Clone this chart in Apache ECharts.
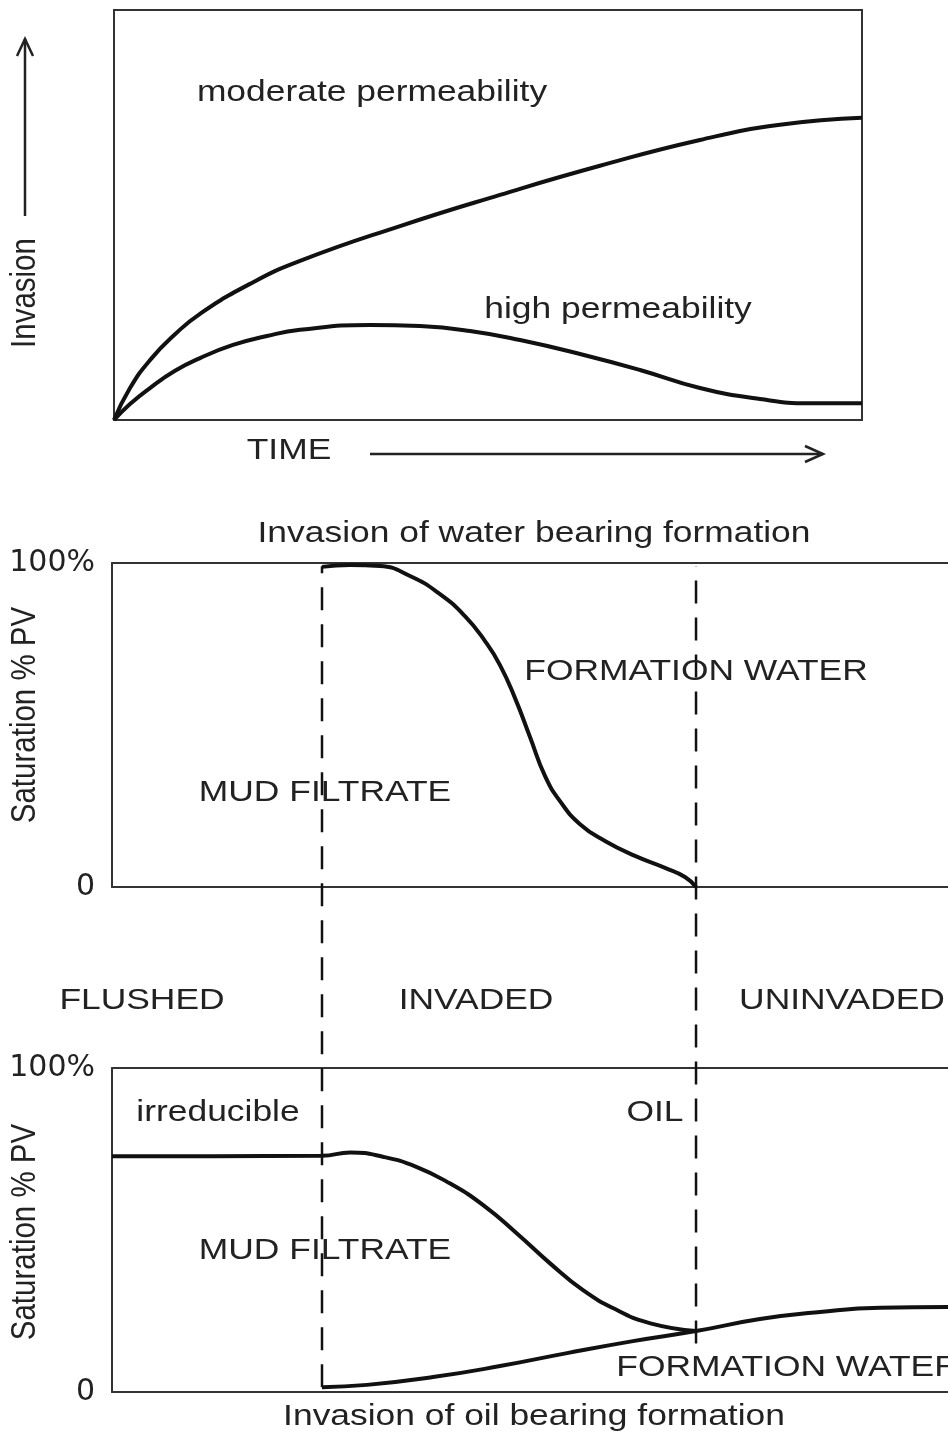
<!DOCTYPE html>
<html>
<head>
<meta charset="utf-8">
<script src="https://cdn.jsdelivr.net/npm/echarts@6/dist/echarts.min.js"></script>
<style>
html, body { margin: 0; padding: 0; background: #fff; }
#main { width: 948px; height: 1433px; }
</style>
</head>
<body>
<div id="main"></div>
<script>
// top panel - invasion vs time
var timeModerate = [0, 2.14, 4.81, 8.16, 11.5, 18.18, 24.87, 38.24, 51.6, 64.97, 78.34, 89.04, 100];
var invModerate  = [0, 7.8, 14.6, 20.9, 25.9, 33.2, 38.8, 47.3, 54.9, 62.0, 68.3, 72.0, 73.7];
var timeHigh = [0, 2.14, 4.81, 8.16, 11.5, 15.91, 20.45, 24.87, 34.22, 40.91, 47.59, 54.28, 62.3, 70.32, 78.34, 86.36, 93.05, 100];
var invHigh  = [0, 3.9, 7.8, 12.0, 15.1, 18.3, 20.5, 22.0, 23.2, 22.9, 21.7, 19.5, 16.1, 12.2, 7.8, 5.1, 4.1, 4.1];

// middle panel - water bearing formation (mud filtrate saturation)
var distWater = [25.12, 28.47, 32.06, 35.65, 39.23, 42.22, 44.62, 46.41, 48.21, 50.0, 51.79, 53.59, 55.98, 58.97, 62.56, 66.15, 68.54, 69.86];
var satWater  = [98.8, 99.4, 99.1, 96.0, 90.4, 83.6, 75.9, 68.5, 58.3, 46.3, 34.3, 26.5, 19.4, 14.2, 9.6, 5.9, 3.1, 0];

// bottom panel - oil bearing formation
var distOil = [0, 12, 25.12, 28.5, 32.4, 36.4, 40.4, 44.4, 48.4, 52.4, 56.3, 60.4, 64.4, 69.86];
var satOil  = [72.8, 72.8, 72.9, 73.9, 72.6, 69.5, 64.4, 57.7, 49.0, 39.7, 31.5, 25.3, 21.2, 18.8];
var distFw = [25.12, 30.5, 38.4, 46.41, 54.43, 62.32, 69.86, 77.51, 84.69, 91.87, 100];
var satFw  = [1.5, 2.2, 4.6, 8.0, 12.0, 15.7, 18.8, 22.5, 24.7, 26.0, 26.2];

// zone boundaries (dashed), in the stacked overlay scale
var zoneX    = [25.12, 69.86];
var zoneFrom = [1.5, 15];
var zoneTo   = [255, 255];

var satTicks = { 0: '0', 100: '100%' };

function pairs(xs, ys) {
    return xs.map(function (x, i) { return [x, ys[i]]; });
}

function curve(name, xi, yi, data) {
    return {
        name: name,
        type: 'line',
        xAxisIndex: xi,
        yAxisIndex: yi,
        data: data,
        smooth: 0.5,
        symbol: 'none',
        silent: true,
        lineStyle: { color: '#111', width: 4 }
    };
}

function txt(s, x, y, rot) {
    return {
        type: 'text',
        x: x, y: y,
        rotation: rot ? Math.PI / 2 : 0,
        scaleX: rot ? 1 : 1.2,
        scaleY: rot ? 1.2 : 1,
        z: 20,
        style: {
            text: s,
            fontSize: 29.5,
            fontFamily: 'Liberation Sans',
            fill: '#222',
            textAlign: 'center', textVerticalAlign: 'middle',
            align: 'center', verticalAlign: 'middle'
        }
    };
}

var axisLn = { show: true, onZero: false, lineStyle: { color: '#333', width: 2 } };

function valAxis(grid, pos, extra) {
    var a = {
        type: 'value', gridIndex: grid, position: pos, min: 0, max: 100,
        axisLine: axisLn, axisTick: { show: false }, axisLabel: { show: false },
        splitLine: { show: false }
    };
    for (var k in extra) a[k] = extra[k];
    return a;
}

var satLabel = {
    show: true, margin: 17, fontSize: 30, fontFamily: 'DejaVu Sans', color: '#222',
    formatter: function (v) { return satTicks[v] || ''; }
};

var myChart = echarts.init(document.getElementById('main'));
var option = {
    animation: false,
    backgroundColor: '#fff',
    grid: [
        { left: 114, top: 10, width: 748, height: 410, show: true, borderColor: '#333', borderWidth: 2 },
        { left: 112, top: 563, width: 836, height: 324 },
        { left: 112, top: 1068, width: 836, height: 324 },
        { left: 112, top: 563, width: 836, height: 829 }
    ],
    xAxis: [
        { type: 'value', gridIndex: 0, min: 0, max: 100, show: false },
        valAxis(1, 'bottom', {}),
        valAxis(1, 'top', {}),
        valAxis(2, 'bottom', {}),
        valAxis(2, 'top', {}),
        { type: 'value', gridIndex: 3, min: 0, max: 100, show: false }
    ],
    yAxis: [
        { type: 'value', gridIndex: 0, min: 0, max: 100, show: false },
        valAxis(1, 'left', { interval: 100, axisLabel: satLabel }),
        valAxis(2, 'left', { interval: 100, axisLabel: satLabel }),
        { type: 'value', gridIndex: 3, min: 0, max: 256, show: false }
    ],
    series: [
        curve('moderate permeability', 0, 0, pairs(timeModerate, invModerate)),
        curve('high permeability', 0, 0, pairs(timeHigh, invHigh)),
        curve('mud filtrate (water zone)', 1, 1, pairs(distWater, satWater)),
        curve('oil', 3, 2, pairs(distOil, satOil)),
        curve('formation water', 3, 2, pairs(distFw, satFw))
    ].concat(zoneX.map(function (x, i) {
        return {
            type: 'line', xAxisIndex: 5, yAxisIndex: 3, symbol: 'none', silent: true,
            data: [[x, zoneFrom[i]], [x, zoneTo[i]]],
            lineStyle: { color: '#111', width: 2.5, type: [23, 14] },
            z: 1
        };
    })),
    graphic: [
        // axis arrows
        { type: 'line', shape: { x1: 25, y1: 216, x2: 25, y2: 39 }, style: { stroke: '#222', lineWidth: 2.5 } },
        { type: 'polyline', shape: { points: [[17, 56], [25, 39], [33, 56]] }, style: { stroke: '#222', lineWidth: 2.5, fill: null } },
        { type: 'line', shape: { x1: 370, y1: 454, x2: 823, y2: 454 }, style: { stroke: '#222', lineWidth: 2.5 } },
        { type: 'polyline', shape: { points: [[805, 446], [823, 454], [805, 462]] }, style: { stroke: '#222', lineWidth: 2.5, fill: null } },

        txt('moderate permeability', 372, 93),
        txt('high permeability', 618, 310),
        txt('TIME', 289, 451),
        txt('Invasion', 25, 293, true),

        txt('Invasion of water bearing formation', 534, 534),
        txt('FORMATION WATER', 696, 672),
        txt('MUD FILTRATE', 325, 793),
        txt('Saturation % PV', 25, 715, true),

        txt('FLUSHED', 142, 1001),
        txt('INVADED', 476, 1001),
        txt('UNINVADED', 842, 1001),

        txt('irreducible', 218, 1113),
        txt('OIL', 655, 1113),
        txt('MUD FILTRATE', 325, 1251),
        txt('FORMATION WATER', 788, 1368),
        txt('Saturation % PV', 25, 1232, true),
        txt('Invasion of oil bearing formation', 534, 1417)
    ]
};
myChart.setOption(option);
</script>
</body>
</html>
